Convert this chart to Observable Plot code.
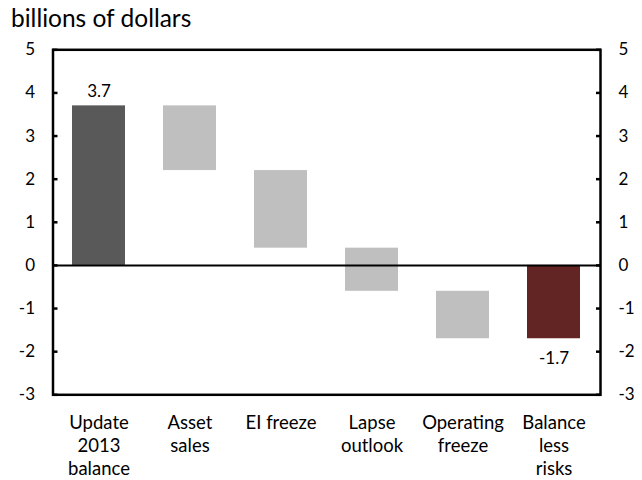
<!DOCTYPE html>
<html>
<head>
<meta charset="utf-8">
<script src="https://cdn.jsdelivr.net/npm/d3@7"></script>
<script src="https://cdn.jsdelivr.net/npm/@observablehq/plot@0.6"></script>
<style>
  body { margin: 0; background: #fff; font-family: Lato, "Open Sans", sans-serif; }
  #title { height: 38px; line-height: 36px; font-size: 24.5px; padding-left: 11px; color: #000; }
  svg { display: block; }
</style>
</head>
<body>
<div id="title">billions of dollars</div>
<div id="chart"></div>
<script>
const categories = ["Update\n2013\nbalance", "Asset\nsales", "EI freeze", "Lapse\noutlook", "Operating\nfreeze", "Balance\nless\nrisks"];
const starts = [0, 3.7, 2.2, 0.4, -0.6, 0];
const ends = [3.7, 2.2, 0.4, -0.6, -1.7, -1.7];
const barColors = ["#595959", "#bfbfbf", "#bfbfbf", "#bfbfbf", "#bfbfbf", "#632523"];
const yTicks = [-3, -2, -1, 0, 1, 2, 3, 4, 5];
const labelled = [
  {cat: categories[0], value: 3.7, text: "3.7", pos: "above"},
  {cat: categories[5], value: -1.7, text: "-1.7", pos: "below"}
];

const data = categories.map((c, i) => ({cat: c, y1: starts[i], y2: ends[i], color: barColors[i]}));

const chart = Plot.plot({
  width: 642,
  height: 442,
  marginLeft: 52.5,
  marginRight: 42,
  marginTop: 11.3,
  marginBottom: 85.7,
  style: {fontFamily: "Lato, 'Open Sans', sans-serif", color: "#000", background: "#fff"},
  x: {domain: categories, paddingInner: 0.42, paddingOuter: 0.21, label: null},
  y: {domain: [-3, 5], label: null},
  marks: [
    Plot.barY(data, {x: "cat", y1: "y1", y2: "y2", fill: "color"}),
    Plot.ruleY([0], {stroke: "#000", strokeWidth: 2}),
    Plot.text(labelled.filter(d => d.pos === "above"), {x: "cat", y: "value", text: "text", dy: -14, fontSize: 17, fill: "#000"}),
    Plot.text(labelled.filter(d => d.pos === "below"), {x: "cat", y: "value", text: "text", dy: 20, fontSize: 17, fill: "#000"}),
    Plot.axisY(yTicks, {anchor: "left", tickSize: -5, tickPadding: 23, strokeWidth: 2.5, fontSize: 17, tickFormat: d => String(d)}),
    Plot.axisY(yTicks, {anchor: "right", tickSize: -5, tickPadding: 23, strokeWidth: 2.5, fontSize: 17, tickFormat: d => String(d)}),
    Plot.axisX({anchor: "bottom", tickSize: 0, tickPadding: 18, fontSize: 18.5, lineHeight: 1.25, lineAnchor: "top"}),
    Plot.frame({stroke: "#000", strokeWidth: 2.5})
  ]
});
document.getElementById("chart").appendChild(chart);
</script>
</body>
</html>
